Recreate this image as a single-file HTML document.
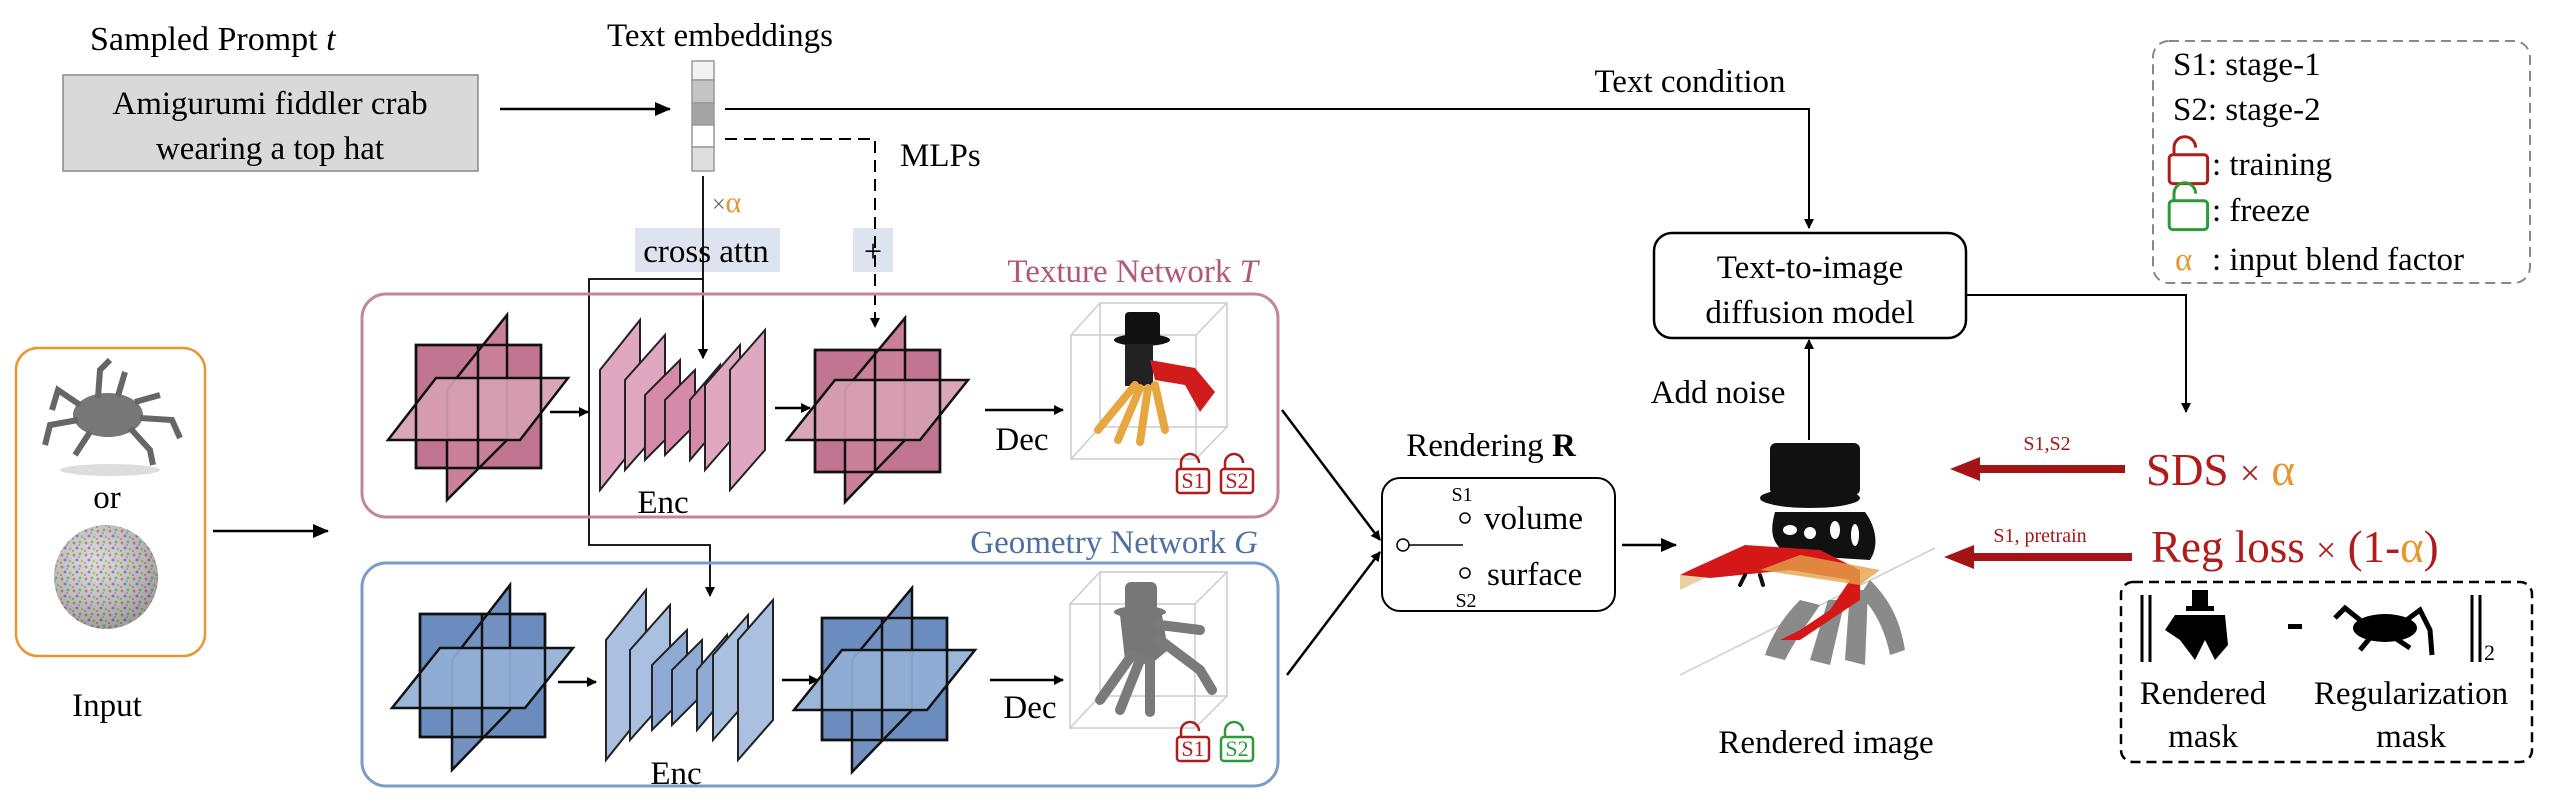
<!DOCTYPE html>
<html><head><meta charset="utf-8"><style>
html,body{margin:0;padding:0;background:#fff;}
svg{display:block;}
svg text{font-family:"Liberation Serif","Times New Roman",Times,"DejaVu Serif",serif;}
</style></head><body>
<svg width="2560" height="807" viewBox="0 0 2560 807" xmlns="http://www.w3.org/2000/svg">
<defs>
<marker id="ah" markerWidth="10" markerHeight="10" refX="9" refY="5" orient="auto" markerUnits="userSpaceOnUse"><path d="M0,0 L10,5 L0,10 z" fill="#000"/></marker>
<marker id="ah2" markerWidth="16" markerHeight="14" refX="15" refY="7" orient="auto" markerUnits="userSpaceOnUse"><path d="M0,0 L16,7 L0,14 z" fill="#000"/></marker>
<marker id="rah" markerWidth="30" markerHeight="24" refX="2" refY="12" orient="auto" markerUnits="userSpaceOnUse"><path d="M0,0 L30,12 L0,24 z" fill="#a51414"/></marker>
<pattern id="noise" width="12" height="12" patternUnits="userSpaceOnUse">
<rect width="12" height="12" fill="#ccc"/>
<circle cx="2" cy="3" r="1.5" fill="#c55"/><circle cx="8" cy="2" r="1.5" fill="#5a5"/><circle cx="5" cy="8" r="1.5" fill="#55c"/><circle cx="10" cy="9" r="1.5" fill="#aa4"/><circle cx="1" cy="11" r="1.2" fill="#888"/><circle cx="7" cy="5" r="1" fill="#b6b"/>
</pattern>
<radialGradient id="sph" cx="0.4" cy="0.35" r="0.7"><stop offset="0" stop-color="#fff" stop-opacity="0.3"/><stop offset="1" stop-color="#666" stop-opacity="0.5"/></radialGradient>
<g id="lock"><path d="M5,14 V8 a9,9 0 0 1 18,0" fill="none" stroke-width="2.5"/><rect x="1" y="14" width="32" height="24" rx="3" fill="#fff" stroke-width="2.5"/></g>
</defs>

<text x="90" y="50" font-size="34">Sampled Prompt <tspan font-style="italic">t</tspan></text>
<rect x="63" y="75" width="415" height="96" fill="#d9d9d9" stroke="#888" stroke-width="1.5"/>
<text x="270" y="114" font-size="33" text-anchor="middle">Amigurumi fiddler crab</text>
<text x="270" y="159" font-size="33" text-anchor="middle">wearing a top hat</text>
<line x1="500" y1="109" x2="670" y2="109" stroke="#000" stroke-width="2.5" marker-end="url(#ah2)"/>

<text x="720" y="46" font-size="33" text-anchor="middle">Text embeddings</text>
<g stroke="#999" stroke-width="1.5">
<rect x="692" y="61" width="22" height="19" fill="#f2f2f2"/>
<rect x="692" y="80" width="22" height="23" fill="#c4c4c4"/>
<rect x="692" y="103" width="22" height="22" fill="#a4a4a4"/>
<rect x="692" y="125" width="22" height="22" fill="#fff"/>
<rect x="692" y="147" width="22" height="24" fill="#dedede"/>
</g>
<rect x="635" y="228" width="145" height="44" fill="#dde3ef"/>
<text x="706" y="262" font-size="33" text-anchor="middle">cross attn</text>
<rect x="853" y="228" width="40" height="44" fill="#dde3ef"/>
<text x="873" y="262" font-size="32" text-anchor="middle">+</text>
<polyline points="725,109 1809,109 1809,228" fill="none" stroke="#000" stroke-width="2" marker-end="url(#ah)"/>
<text x="1690" y="92" font-size="33" text-anchor="middle">Text condition</text>
<polyline points="725,139 875,139 875,327" fill="none" stroke="#000" stroke-width="2" stroke-dasharray="12,7" marker-end="url(#ah)"/>
<text x="900" y="166" font-size="33">MLPs</text>
<line x1="703" y1="176" x2="703" y2="358" stroke="#000" stroke-width="1.8" marker-end="url(#ah)"/>
<text x="712" y="212" font-size="24" fill="#666">×<tspan fill="#e8962e" font-size="30">α</tspan></text>
<polyline points="703,279 589,279 589,545 710,545 710,596" fill="none" stroke="#000" stroke-width="1.8" marker-end="url(#ah)"/>

<rect x="16" y="348" width="189" height="308" rx="22" fill="#fff" stroke="#e8962e" stroke-width="2.5"/>
<ellipse cx="108" cy="415" rx="35" ry="22" fill="#777"/>
<g stroke-width="6" fill="none" stroke="#666">
<path d="M80,405 L58,390 L52,410"/><path d="M78,420 L50,425 L45,445"/><path d="M90,432 L75,455"/><path d="M130,428 L150,450 L153,465"/><path d="M140,418 L172,420 L180,438"/><path d="M135,402 L160,395"/><path d="M98,398 L100,370 L110,360"/><path d="M118,396 L125,372"/>
</g>
<ellipse cx="110" cy="470" rx="50" ry="6" fill="#ddd"/>
<text x="107" y="508" font-size="33" text-anchor="middle">or</text>
<circle cx="106" cy="577" r="52" fill="url(#noise)"/>
<circle cx="106" cy="577" r="52" fill="url(#sph)"/>
<text x="107" y="716" font-size="33" text-anchor="middle">Input</text>
<line x1="213" y1="531" x2="328" y2="531" stroke="#000" stroke-width="2.5" marker-end="url(#ah2)"/>

<text x="1258" y="282" font-size="33" text-anchor="end" fill="#b0577a">Texture Network <tspan font-style="italic">T</tspan></text>
<rect x="362" y="294" width="916" height="223" rx="24" fill="none" stroke="#c48597" stroke-width="3"/>
<text x="1258" y="553" font-size="33" text-anchor="end" fill="#4e6fa3">Geometry Network <tspan font-style="italic">G</tspan></text>
<rect x="362" y="563" width="916" height="223" rx="24" fill="none" stroke="#7a9cc8" stroke-width="3"/>

<g stroke="#111" stroke-width="2.5">
<rect x="416" y="345" width="125" height="123" fill="#c27590"/>
<polygon points="447,390 507,315 507,440 447,500" fill="#c98098"/>
<polygon points="388,440 520,440 568,378 436,378" fill="#d7a0b3" fill-opacity="0.92"/>
<line x1="478" y1="345" x2="478" y2="468"/>
<rect x="416" y="345" width="125" height="123" fill="none"/>
</g>
<line x1="550" y1="412" x2="588" y2="412" stroke="#000" stroke-width="2.5" marker-end="url(#ah)"/>
<g stroke="#222" stroke-width="2" fill="#e0a8c0">
<polygon points="600,490 600,370 640,320 640,440"/>
<polygon points="625,470 625,380 665,335 665,425"/>
<polygon points="645,460 645,395 680,360 680,425" fill="#d48aa8"/>
<polygon points="665,455 665,400 695,370 695,425" fill="#d48aa8"/>
<polygon points="690,460 690,400 720,365 720,425" fill="#d48aa8"/>
<polygon points="705,470 705,385 740,345 740,430"/>
<polygon points="730,490 730,370 765,330 765,450"/>
</g>
<line x1="703" y1="300" x2="703" y2="358" stroke="#000" stroke-width="1.8" marker-end="url(#ah)"/>
<text x="663" y="513" font-size="33" text-anchor="middle">Enc</text>
<line x1="775" y1="408" x2="810" y2="408" stroke="#000" stroke-width="2.5" marker-end="url(#ah)"/>
<g stroke="#111" stroke-width="2.5">
<rect x="815" y="350" width="125" height="122" fill="#c27590"/>
<polygon points="845,390 905,318 905,440 845,502" fill="#c98098"/>
<polygon points="787,440 920,440 968,380 835,380" fill="#d7a0b3" fill-opacity="0.92"/>
<line x1="875" y1="350" x2="875" y2="472"/>
<rect x="815" y="350" width="125" height="122" fill="none"/>
</g>
<line x1="985" y1="410" x2="1063" y2="410" stroke="#000" stroke-width="2.5" marker-end="url(#ah)"/>
<text x="1022" y="450" font-size="33" text-anchor="middle">Dec</text>
<g stroke="#ccc" stroke-width="1.5" fill="none">
<rect x="1071" y="335" width="125" height="124"/><rect x="1100" y="303" width="127" height="124"/>
<line x1="1071" y1="335" x2="1100" y2="303"/><line x1="1196" y1="335" x2="1227" y2="303"/><line x1="1071" y1="459" x2="1100" y2="427"/><line x1="1196" y1="459" x2="1227" y2="427"/>
</g>
<rect x="1125" y="312" width="35" height="28" fill="#111" rx="4"/>
<ellipse cx="1142" cy="340" rx="28" ry="6" fill="#111"/>
<rect x="1125" y="344" width="28" height="42" fill="#222"/>
<path d="M1150,360 L1195,368 L1215,392 L1200,412 L1185,385 L1155,380z" fill="#d21c1c"/>
<g stroke="#e6a640" stroke-width="8" fill="none" stroke-linecap="round">
<path d="M1135,385 L1098,430"/><path d="M1140,388 L1118,440"/><path d="M1148,388 L1140,442"/><path d="M1155,385 L1165,430"/>
</g>

<g stroke="#111" stroke-width="2.5">
<rect x="420" y="614" width="125" height="123" fill="#6a8cbf"/>
<polygon points="452,660 510,585 510,710 452,770" fill="#7392c2"/>
<polygon points="392,708 525,708 573,648 440,648" fill="#93b0d6" fill-opacity="0.92"/>
<line x1="482" y1="614" x2="482" y2="737"/>
<rect x="420" y="614" width="125" height="123" fill="none"/>
</g>
<line x1="558" y1="682" x2="596" y2="682" stroke="#000" stroke-width="2.5" marker-end="url(#ah)"/>
<g stroke="#222" stroke-width="2" fill="#a9c0e0">
<polygon points="606,760 606,640 646,590 646,710"/>
<polygon points="630,740 630,650 670,605 670,695"/>
<polygon points="652,730 652,665 687,630 687,695" fill="#8faad4"/>
<polygon points="672,725 672,670 702,640 702,695" fill="#8faad4"/>
<polygon points="697,730 697,670 727,635 727,695" fill="#8faad4"/>
<polygon points="713,740 713,655 748,615 748,700"/>
<polygon points="738,760 738,640 773,600 773,720"/>
</g>
<text x="676" y="784" font-size="33" text-anchor="middle">Enc</text>
<line x1="782" y1="680" x2="818" y2="680" stroke="#000" stroke-width="2.5" marker-end="url(#ah)"/>
<g stroke="#111" stroke-width="2.5">
<rect x="822" y="618" width="125" height="122" fill="#6a8cbf"/>
<polygon points="852,660 912,588 912,710 852,772" fill="#7392c2"/>
<polygon points="794,710 927,710 975,650 842,650" fill="#93b0d6" fill-opacity="0.92"/>
<line x1="882" y1="618" x2="882" y2="740"/>
<rect x="822" y="618" width="125" height="122" fill="none"/>
</g>
<line x1="990" y1="680" x2="1063" y2="680" stroke="#000" stroke-width="2.5" marker-end="url(#ah)"/>
<text x="1030" y="718" font-size="33" text-anchor="middle">Dec</text>
<g stroke="#ccc" stroke-width="1.5" fill="none">
<rect x="1070" y="604" width="125" height="124"/><rect x="1100" y="572" width="127" height="124"/>
<line x1="1070" y1="604" x2="1100" y2="572"/><line x1="1195" y1="604" x2="1227" y2="572"/><line x1="1070" y1="728" x2="1100" y2="696"/><line x1="1195" y1="728" x2="1227" y2="696"/>
</g>
<g fill="#777">
<rect x="1125" y="582" width="32" height="30" rx="6"/><ellipse cx="1140" cy="612" rx="26" ry="6"/>
<path d="M1120,615 L1162,615 L1168,650 L1150,665 L1125,660z"/>
</g>
<g stroke="#7a7a7a" stroke-width="10" fill="none" stroke-linecap="round">
<path d="M1132,655 L1100,700"/><path d="M1140,660 L1120,710"/><path d="M1150,660 L1150,712"/><path d="M1160,640 L1200,670 L1212,690"/><path d="M1160,625 L1200,630"/>
</g>

<g stroke="#b01c1c" fill="none"><use href="#lock" x="1176" y="455"/><use href="#lock" x="1220" y="455"/><use href="#lock" x="1176" y="723"/></g>
<g stroke="#2a9a3a" fill="none"><use href="#lock" x="1220" y="723"/></g>
<g font-size="22" fill="#b01c1c" text-anchor="middle"><text x="1193" y="488">S1</text><text x="1237" y="488">S2</text><text x="1193" y="756">S1</text></g>
<text x="1237" y="756" font-size="22" fill="#2a9a3a" text-anchor="middle">S2</text>

<line x1="1282" y1="410" x2="1380" y2="540" stroke="#000" stroke-width="2.5" marker-end="url(#ah)"/>
<line x1="1287" y1="675" x2="1380" y2="552" stroke="#000" stroke-width="2.5" marker-end="url(#ah)"/>

<text x="1491" y="456" font-size="33" text-anchor="middle">Rendering <tspan font-weight="bold">R</tspan></text>
<rect x="1382" y="478" width="233" height="133" rx="18" fill="#fff" stroke="#000" stroke-width="2"/>
<circle cx="1403" cy="545" r="6" fill="#fff" stroke="#000" stroke-width="1.5"/>
<line x1="1409" y1="545" x2="1463" y2="545" stroke="#000" stroke-width="1.5"/>
<circle cx="1465" cy="518" r="5" fill="#fff" stroke="#000" stroke-width="1.5"/>
<circle cx="1465" cy="573" r="5" fill="#fff" stroke="#000" stroke-width="1.5"/>
<text x="1462" y="501" font-size="20" text-anchor="middle">S1</text>
<text x="1466" y="607" font-size="20" text-anchor="middle">S2</text>
<text x="1484" y="529" font-size="33">volume</text>
<text x="1487" y="585" font-size="33">surface</text>
<line x1="1622" y1="545" x2="1676" y2="545" stroke="#000" stroke-width="2.5" marker-end="url(#ah2)"/>

<line x1="1680" y1="675" x2="1935" y2="548" stroke="#ccc" stroke-width="1.5"/>
<g fill="#8a8a8a">
<path d="M1800,600 C1780,620 1770,640 1765,655 L1785,660 C1795,640 1810,620 1820,605z"/>
<path d="M1850,590 L1845,660 L1865,665 L1868,590z"/>
<path d="M1870,580 C1890,600 1900,620 1905,650 L1890,655 C1885,630 1875,610 1860,595z"/>
<path d="M1828,600 L1810,660 L1830,665 L1845,600z"/>
</g>
<path d="M1775,512 C1770,530 1770,545 1790,555 L1870,560 C1880,545 1875,525 1865,512z" fill="#111"/>
<g fill="#fff"><ellipse cx="1790" cy="530" rx="7" ry="5"/><ellipse cx="1810" cy="533" rx="6" ry="6"/><ellipse cx="1835" cy="530" rx="5" ry="9"/><ellipse cx="1855" cy="535" rx="4" ry="11"/></g>
<rect x="1770" y="443" width="90" height="52" rx="6" fill="#111"/>
<ellipse cx="1810" cy="498" rx="50" ry="10" fill="#111"/>
<path d="M1745,545 L1690,570 L1680,575 L1710,578 L1790,570 L1850,580 L1830,610 L1800,630 L1780,640 L1800,640 L1860,600 L1860,570 L1820,550z" fill="#d41818"/>
<path d="M1680,575 L1705,578 L1680,590z" fill="#e8d0a0"/>
<path d="M1760,570 L1860,585 L1880,570 L1800,555z" fill="#e4a24a" fill-opacity="0.8"/>
<g stroke="#111" stroke-width="4" stroke-linecap="round"><line x1="1745" y1="575" x2="1740" y2="585"/><line x1="1760" y1="575" x2="1763" y2="585"/></g>
<text x="1826" y="753" font-size="33" text-anchor="middle">Rendered image</text>

<line x1="1809" y1="440" x2="1809" y2="340" stroke="#000" stroke-width="2" marker-end="url(#ah)"/>
<text x="1718" y="403" font-size="33" text-anchor="middle">Add noise</text>
<rect x="1654" y="233" width="312" height="105" rx="18" fill="#fff" stroke="#000" stroke-width="2.5"/>
<text x="1810" y="278" font-size="33" text-anchor="middle">Text-to-image</text>
<text x="1810" y="323" font-size="33" text-anchor="middle">diffusion model</text>
<polyline points="1966,295 2186,295 2186,412" fill="none" stroke="#000" stroke-width="2" marker-end="url(#ah)"/>

<line x1="2125" y1="469" x2="1978" y2="469" stroke="#a51414" stroke-width="8" marker-end="url(#rah)"/>
<text x="2047" y="450" font-size="20" fill="#a51414" text-anchor="middle">S1,S2</text>
<text x="2146" y="485" font-size="45" fill="#b01c1c">SDS <tspan font-size="36">×</tspan> <tspan fill="#e8962e">α</tspan></text>
<line x1="2132" y1="557" x2="1972" y2="557" stroke="#a51414" stroke-width="8" marker-end="url(#rah)"/>
<text x="2040" y="542" font-size="20" fill="#a51414" text-anchor="middle">S1, pretrain</text>
<text x="2151" y="562" font-size="45" fill="#b01c1c">Reg loss <tspan font-size="36">×</tspan> (1-<tspan fill="#e8962e">α</tspan>)</text>

<rect x="2121" y="582" width="411" height="180" rx="12" fill="none" stroke="#000" stroke-width="2.5" stroke-dasharray="10,6"/>
<g stroke="#000" stroke-width="3"><line x1="2142" y1="595" x2="2142" y2="662"/><line x1="2150" y1="595" x2="2150" y2="662"/><line x1="2472" y1="595" x2="2472" y2="662"/><line x1="2480" y1="595" x2="2480" y2="662"/></g>
<text x="2484" y="660" font-size="22">2</text>
<g fill="#000">
<rect x="2192" y="590" width="16" height="18"/><rect x="2186" y="606" width="28" height="5"/>
<path d="M2175,615 L2225,615 L2228,645 L2215,660 L2205,640 L2195,660 L2180,640 L2165,630z"/>
<rect x="2288" y="624" width="14" height="5"/>
<ellipse cx="2385" cy="628" rx="32" ry="14"/>
<g stroke="#000" stroke-width="5" fill="none"><path d="M2360,620 L2345,608 L2335,618"/><path d="M2400,625 L2420,610 L2430,630 L2432,655"/><path d="M2370,638 L2360,650"/><path d="M2395,638 L2410,648"/></g>
</g>
<text x="2203" y="704" font-size="33" text-anchor="middle">Rendered</text>
<text x="2203" y="747" font-size="33" text-anchor="middle">mask</text>
<text x="2411" y="704" font-size="33" text-anchor="middle">Regularization</text>
<text x="2411" y="747" font-size="33" text-anchor="middle">mask</text>

<rect x="2153" y="41" width="377" height="242" rx="16" fill="none" stroke="#888" stroke-width="2" stroke-dasharray="10,6"/>
<text x="2173" y="75" font-size="33">S1: stage-1</text>
<text x="2173" y="120" font-size="33">S2: stage-2</text>
<g stroke="#b01c1c" fill="none" transform="translate(2168,138) scale(1.2)"><use href="#lock"/></g>
<g stroke="#2a9a3a" fill="none" transform="translate(2168,184) scale(1.2)"><use href="#lock"/></g>
<text x="2212" y="175" font-size="33">: training</text>
<text x="2212" y="221" font-size="33">: freeze</text>
<text x="2175" y="270" font-size="33" fill="#e8962e">α</text>
<text x="2212" y="270" font-size="33">: input blend factor</text>
</svg>
</body></html>
